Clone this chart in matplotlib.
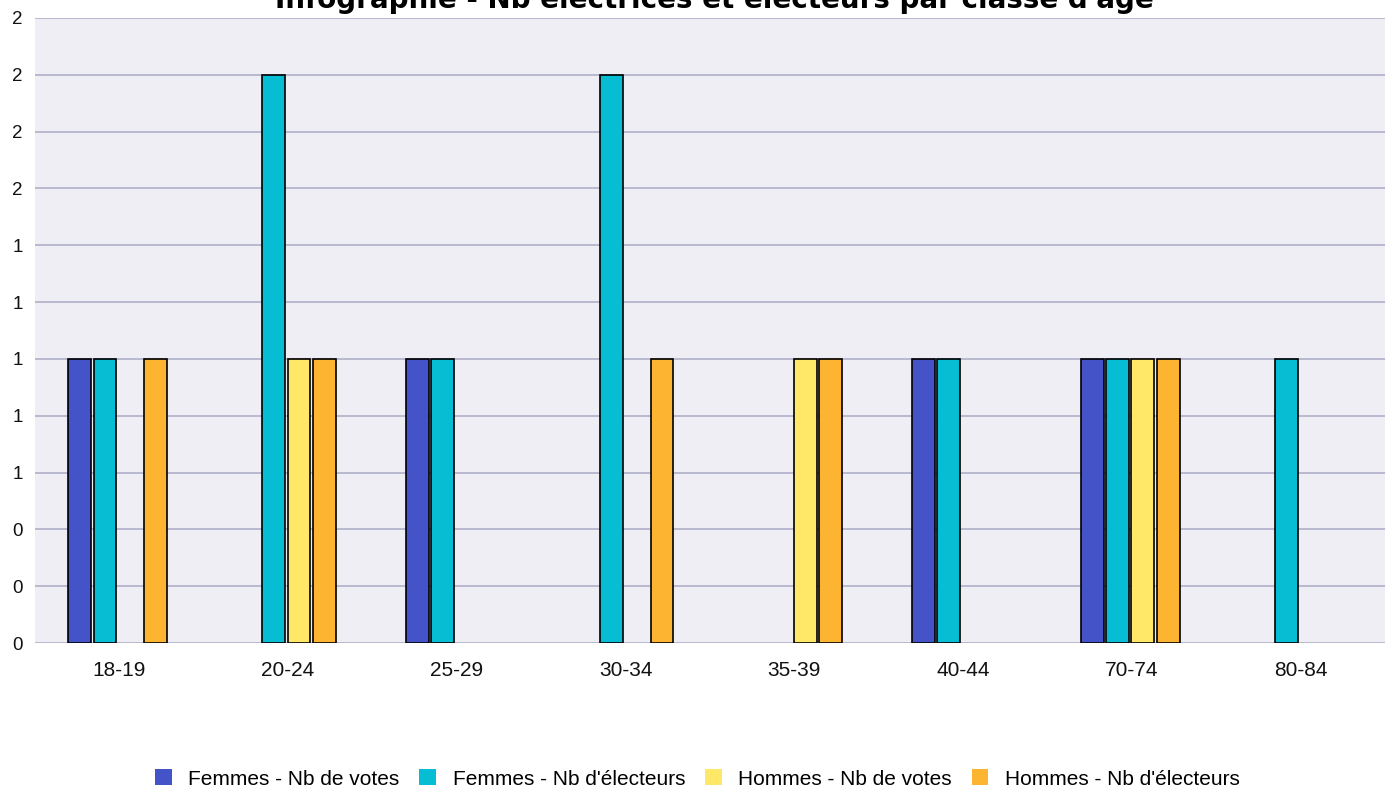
import numpy as np
import matplotlib.pyplot as plt
from matplotlib.patches import Patch

categories = ['18-19', '20-24', '25-29', '30-34', '35-39', '40-44', '70-74', '80-84']
femmes_votes = [1, 0, 1, 0, 0, 1, 1, 0]
femmes_electeurs = [1, 2, 1, 2, 0, 1, 1, 1]
hommes_votes = [0, 1, 0, 0, 1, 0, 1, 0]
hommes_electeurs = [1, 1, 0, 1, 1, 0, 1, 0]
series_names = ['Femmes - Nb de votes', "Femmes - Nb d'électeurs",
                'Hommes - Nb de votes', "Hommes - Nb d'électeurs"]
y_ticks = [0, 0.2, 0.4, 0.6, 0.8, 1.0, 1.2, 1.4, 1.6, 1.8, 2.0, 2.2]
y_labels = ['0', '0', '0', '1', '1', '1', '1', '1', '2', '2', '2', '2']
title = "Infographie - Nb électrices et électeurs par classe d'âge"

colors = ['#4453C7', '#07BDD4', '#FFE868', '#FDB531']
series = [femmes_votes, femmes_electeurs, hommes_votes, hommes_electeurs]

plt.rcParams['font.family'] = ['Liberation Sans', 'DejaVu Sans']

fig = plt.figure(figsize=(13.85, 7.9), dpi=100)
ax = fig.add_axes([35 / 1385, 147 / 790, 1350 / 1385, 625 / 790])
ax.set_facecolor('#EFEEF4')

x = np.arange(len(categories))
slot = 0.15
width = 0.135
for i, (vals, col) in enumerate(zip(series, colors)):
    offs = (i - 1.5) * slot - 0.01
    v = np.array(vals, dtype=float)
    mask = v > 0
    ax.bar(x[mask] + offs, v[mask], width=width, color=col,
           edgecolor='black', linewidth=1.2, zorder=3)

ax.set_xlim(-0.5, len(categories) - 0.5)
ax.set_ylim(0, 2.2)
ax.set_yticks(y_ticks)
ax.set_yticklabels(y_labels)
ax.set_xticks(x)
ax.set_xticklabels(categories)
ax.grid(axis='y', color='#B4B4CC', linewidth=1.3, zorder=1)
ax.tick_params(axis='both', length=0, colors='#111111')
ax.tick_params(axis='x', pad=13, labelsize=15)
ax.tick_params(axis='y', pad=9, labelsize=13.5)
for s in ax.spines.values():
    s.set_visible(False)

fig.text(0.516, 1 - 8 / 790, title, ha='center', va='baseline',
         fontsize=20, fontweight='bold', family=['DejaVu Sans'])

handles = [Patch(facecolor=c, edgecolor='none') for c in colors]
fig.legend(handles, series_names, loc='center', bbox_to_anchor=(0.5036, 1 - 779 / 790),
           ncol=4, frameon=False, fontsize=15, handlelength=0.8, handleheight=0.8,
           handletextpad=0.8, columnspacing=0.95)

fig.savefig('out.png', dpi=100)
